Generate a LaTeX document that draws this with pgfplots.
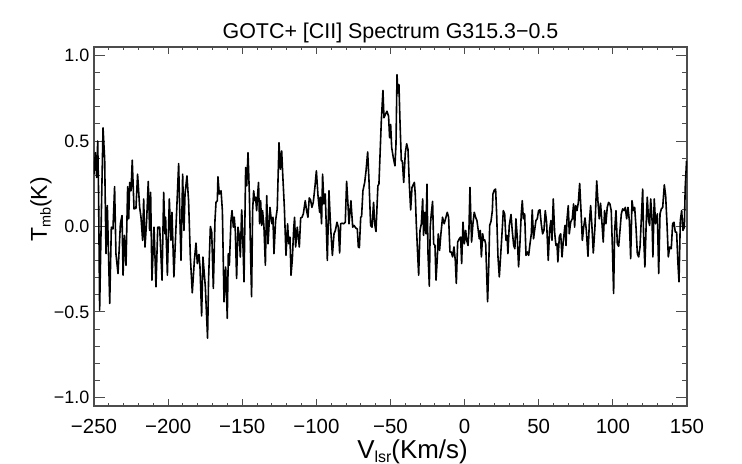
\documentclass[border=0pt]{standalone}
\usepackage{fontspec}
\setmainfont{Liberation Sans}
\usepackage{pgfplots}
\pgfplotsset{compat=1.18}
\pgfplotstableread{
x y
-250.0 0.306
-249.1 0.432
-248.2 0.287
-247.5 0.500
-246.9 0.190
-246.2 -0.489
-245.0 0.093
-243.9 0.577
-242.8 0.393
-241.9 -0.159
-241.0 0.122
-239.4 -0.450
-238.3 -0.004
-237.2 -0.014
-236.1 0.233
-235.2 -0.159
-233.8 -0.275
-232.2 0.016
-231.1 0.064
-230.4 -0.285
-229.5 -0.052
-228.4 -0.227
-227.3 0.233
-226.6 0.045
-225.9 0.258
-225.0 0.209
-224.2 0.388
-223.0 0.103
-221.7 0.107
-220.6 0.306
-219.2 0.112
-218.3 0.054
-217.2 -0.081
-216.5 0.161
-215.6 -0.120
-214.5 0.035
-213.4 0.264
-212.5 -0.023
-211.8 0.200
-210.9 -0.314
-209.5 -0.004
-208.2 -0.353
-207.0 -0.004
-205.7 -0.004
-204.1 -0.314
-203.0 0.200
-202.1 -0.043
-201.7 0.054
-200.5 -0.285
-199.2 0.161
-198.1 -0.081
-197.4 0.083
-196.1 -0.295
-194.7 -0.004
-192.9 0.368
-191.8 -0.043
-191.3 -0.198
-190.2 0.306
-189.3 -0.023
-188.6 0.190
-187.3 0.296
-186.2 0.151
-185.0 -0.179
-183.7 -0.388
-182.3 -0.198
-181.2 -0.097
-180.3 -0.217
-179.2 -0.163
-178.5 -0.237
-177.4 -0.523
-176.5 -0.179
-174.9 -0.353
-173.4 -0.653
-172.7 -0.304
-171.5 0.000
-170.6 -0.033
-169.5 -0.362
-168.4 0.035
-167.7 0.141
-166.8 0.151
-166.4 0.291
-165.5 0.190
-164.3 0.209
-163.4 0.093
-162.3 -0.440
-161.2 -0.237
-160.1 -0.537
-159.4 -0.159
-158.7 -0.227
-157.6 0.035
-156.9 0.093
-156.0 -0.004
-155.4 0.054
-154.7 -0.023
-153.8 -0.304
-152.9 -0.004
-152.0 -0.052
-151.3 -0.179
-150.4 0.097
-150.0 0.035
-148.8 -0.324
-147.7 0.345
-147.0 0.238
-146.1 0.432
-145.2 0.190
-144.3 -0.198
-143.7 -0.411
-143.0 0.093
-142.3 0.209
-141.6 0.151
-141.0 0.171
-140.3 0.093
-139.6 0.190
-139.0 0.258
-138.3 0.016
-137.6 0.151
-136.9 0.006
-136.3 0.093
-135.4 0.006
-134.4 -0.227
-133.5 0.180
-132.6 -0.101
-132.0 -0.004
-131.3 0.112
-130.6 0.054
-130.0 0.016
-129.3 0.054
-128.6 -0.159
-127.5 0.035
-126.4 0.103
-125.2 0.490
-124.3 0.335
-123.4 0.442
-122.7 0.306
-121.6 0.112
-120.5 -0.169
-119.4 0.016
-118.7 -0.101
-117.8 -0.062
-117.1 -0.285
-116.2 -0.188
-115.3 -0.014
-114.7 0.054
-114.0 -0.120
-112.9 -0.004
-112.2 -0.062
-111.5 -0.120
-110.6 0.050
-109.7 0.054
-108.8 0.074
-107.5 0.151
-106.6 0.093
-105.7 0.054
-104.8 0.167
-103.9 0.155
-103.0 0.112
-102.1 0.141
-101.0 0.229
-100.0 0.326
-98.9 0.180
-97.8 0.083
-97.4 0.171
-96.5 0.016
-95.8 0.306
-94.9 0.132
-94.0 0.190
-92.6 -0.198
-91.5 0.209
-90.4 -0.004
-89.2 -0.169
-88.1 -0.043
-87.2 -0.023
-86.1 0.025
-85.2 -0.004
-84.3 -0.155
-83.6 0.016
-82.7 0.019
-81.6 0.016
-80.5 0.025
-79.6 0.264
-78.7 0.132
-78.0 0.016
-76.7 0.151
-75.5 -0.004
-74.6 0.006
-73.3 -0.010
-72.4 -0.014
-71.7 -0.120
-71.0 -0.124
-70.1 0.054
-69.5 0.058
-68.6 0.209
-67.4 0.258
-66.5 0.326
-65.4 0.436
-64.5 0.267
-63.4 0.006
-62.5 -0.004
-61.4 0.141
-60.7 0.016
-59.8 -0.029
-58.5 0.238
-57.8 0.248
-56.2 0.616
-55.1 0.796
-54.4 0.636
-53.5 0.655
-52.4 0.674
-51.3 0.645
-50.6 0.519
-49.9 0.597
-49.2 0.461
-48.1 0.403
-47.0 0.355
-46.3 0.481
-45.6 0.888
-45.0 0.781
-44.3 0.829
-43.6 0.616
-42.7 0.384
-42.0 0.384
-41.1 0.258
-40.0 0.432
-39.1 0.484
-38.2 0.451
-37.3 0.248
-36.4 0.097
-35.5 0.229
-33.9 0.258
-33.3 0.190
-32.6 0.016
-31.7 -0.159
-31.0 -0.285
-30.1 -0.023
-29.2 0.016
-28.3 0.161
-27.7 -0.052
-26.8 0.083
-26.1 -0.043
-25.4 0.248
-24.7 -0.159
-23.8 -0.349
-23.2 -0.004
-22.5 0.074
-21.6 0.147
-20.9 -0.101
-20.0 -0.111
-19.3 -0.314
-18.4 -0.178
-17.8 -0.043
-16.9 -0.140
-16.0 -0.043
-14.9 0.054
-13.8 0.016
-12.6 0.054
-11.7 0.083
-10.8 0.054
-9.9 -0.149
-9.0 -0.149
-8.1 -0.178
-7.2 -0.120
-6.3 -0.198
-5.6 -0.333
-4.7 -0.091
-3.6 -0.072
-2.7 -0.062
-2.0 -0.217
-1.1 0.025
-0.2 -0.101
0.7 -0.023
1.4 -0.081
2.3 -0.111
2.9 -0.023
3.6 0.229
4.7 -0.091
5.6 0.016
6.5 0.083
7.4 0.054
8.3 0.035
9.2 -0.023
9.9 -0.072
10.6 -0.023
11.3 -0.178
12.2 -0.043
12.8 -0.081
13.5 -0.078
14.2 -0.101
14.8 -0.256
15.5 -0.440
16.2 -0.256
16.9 0.006
17.8 0.031
18.7 0.093
19.1 0.190
20.0 0.213
20.9 0.219
21.6 0.074
22.5 -0.178
23.4 -0.295
24.3 -0.169
25.2 -0.043
26.1 0.093
27.0 0.074
27.9 -0.081
28.6 -0.052
29.2 -0.159
30.1 0.006
31.3 0.070
32.1 -0.023
33.1 -0.111
33.9 -0.130
34.6 0.045
35.5 -0.062
36.4 -0.236
37.3 -0.101
38.2 0.074
38.9 0.151
39.6 0.045
40.5 0.074
41.4 -0.169
42.3 -0.149
43.2 -0.169
44.1 -0.101
45.0 -0.043
45.6 0.097
46.5 -0.072
47.2 -0.023
48.1 0.035
49.0 0.045
49.9 0.093
50.8 0.097
51.7 0.016
52.6 -0.043
53.5 -0.023
54.4 0.093
55.3 0.025
56.4 -0.198
57.3 -0.023
58.2 0.035
58.9 -0.081
59.8 0.161
60.7 -0.033
61.6 -0.111
62.3 -0.101
62.9 -0.207
63.9 -0.058
64.8 -0.043
65.7 -0.178
66.6 -0.081
67.7 0.006
68.4 -0.111
69.0 0.035
69.9 0.122
70.6 -0.043
71.5 0.025
72.6 0.045
73.5 0.132
74.2 -0.004
74.9 0.122
75.8 0.093
76.7 0.141
77.6 0.252
78.5 0.093
79.4 -0.081
80.3 -0.004
81.2 0.050
82.1 -0.023
83.2 -0.174
84.1 0.016
85.0 0.122
85.9 -0.004
86.8 -0.155
87.9 -0.004
89.1 0.267
89.9 0.151
90.8 0.045
91.7 0.136
92.6 0.025
93.5 -0.091
94.4 0.093
95.3 0.016
96.2 0.112
97.1 0.141
98.0 0.132
98.9 0.093
99.8 -0.159
100.5 -0.392
101.2 -0.023
102.1 0.093
103.0 -0.101
103.9 -0.116
104.8 -0.023
105.7 0.074
106.6 0.103
107.5 0.093
108.4 0.112
109.3 0.045
110.2 0.112
111.1 0.035
112.0 -0.188
112.9 0.151
113.8 0.093
114.7 0.112
115.6 -0.004
116.5 -0.159
117.4 -0.178
118.3 -0.120
119.2 0.045
120.1 0.219
120.7 -0.043
121.6 -0.237
122.5 0.025
123.2 0.171
124.1 0.035
124.8 0.006
125.5 0.161
126.4 0.045
127.0 -0.178
127.9 0.161
128.8 0.016
130.0 0.074
130.9 -0.275
131.8 0.074
132.7 0.103
133.6 0.112
134.7 0.244
135.6 0.180
136.5 0.016
137.4 -0.178
138.3 -0.120
139.4 -0.130
140.3 0.016
141.2 0.025
142.1 -0.033
143.0 -0.033
143.9 -0.217
144.6 -0.324
145.5 0.035
146.4 0.093
147.3 -0.023
148.2 -0.004
148.8 0.229
149.7 0.384
}\spec
\begin{document}
\begin{tikzpicture}
\path[use as bounding box] (-94bp,-58bp) rectangle (648bp,406bp);
\begin{axis}[
  at={(0,0)}, anchor=south west,
  scale only axis, width=593bp, height=359bp,
  xmin=-250, xmax=150, ymin=-1.05, ymax=1.05,
  xtick={-250,-200,-150,-100,-50,0,50,100,150},
  xticklabels={−250,−200,−150,−100,−50,0,50,100,150},
  ytick={-1,-0.5,0,0.5,1},
  yticklabels={−1.0,−0.5,0.0,0.5,1.0},
  minor x tick num=4, minor y tick num=4,
  tick align=inside,
  major tick length=11bp, minor tick length=5.5bp,
  xtick style={/pgfplots/major tick length=7bp,/pgfplots/minor tick length=3.5bp},
  axis line style={black!70, line width=1.1bp},
  every tick/.style={black!70, line width=1bp},
  xticklabel style={font=\fontsize{20.5}{20.5}\selectfont, anchor=base, yshift=-27bp},
  yticklabel style={font=\fontsize{18}{18}\selectfont, anchor=east, inner sep=0pt, xshift=-4.5bp},
  every axis title/.style={at={(0.5,1)}, anchor=base, yshift=8bp, font=\fontsize{21.5}{21.5}\selectfont},
  title={GOTC+ [CII] Spectrum G315.3−0.5},
  every axis x label/.style={at={(axis description cs:0.5,0)}, xshift=22bp, yshift=-52bp, anchor=base, font=\fontsize{26}{26}\selectfont},
  xlabel={V\raisebox{-0.3ex}{\fontsize{16}{16}\selectfont lsr}(Km/s)},
  every axis y label/.style={at={(axis description cs:0,0.5)}, xshift=-47bp, yshift=17bp, rotate=90, anchor=base, font=\fontsize{23}{23}\selectfont},
  ylabel={T\raisebox{-0.3ex}{\fontsize{14.5}{14.5}\selectfont mb}(K)},
]
\addplot[black, line width=1.6bp, line join=round] table[x=x, y=y] {\spec};
\end{axis}
\end{tikzpicture}
\end{document}
